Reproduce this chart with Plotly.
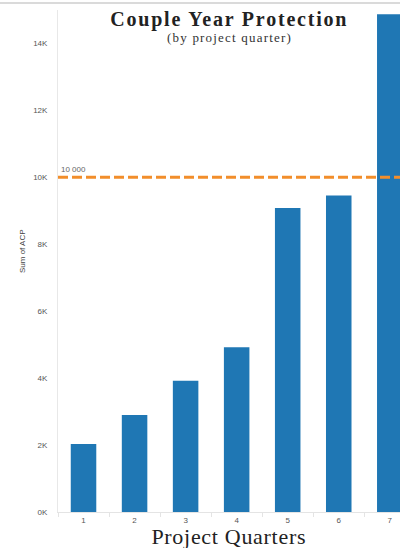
import plotly.graph_objects as go

quarters = ["1", "2", "3", "4", "5", "6", "7"]
cyp_values = [2030, 2900, 3920, 4920, 9080, 9460, 14870]
y_tick_vals = [0, 2000, 4000, 6000, 8000, 10000, 12000, 14000]
y_tick_text = ["0K", "2K", "4K", "6K", "8K", "10K", "12K", "14K"]
target_value = 10000
target_label = "10 000"

W, H = 400, 548
L, R, T, B = 58, 0, 10, 36
pw = W - L - R
ph = H - T - B

def px_x(x):
    return (x - L) / pw

def px_y(y):
    return (H - B - y) / ph

fig = go.Figure()
fig.add_trace(go.Bar(
    x=quarters, y=cyp_values, width=0.5,
    marker=dict(color="#1f77b4", line=dict(width=0)),
    hoverinfo="x+y",
))

fig.update_layout(
    width=W, height=H,
    margin=dict(l=L, r=R, t=T, b=B),
    paper_bgcolor="white", plot_bgcolor="white",
    showlegend=False,
    bargap=0.5,
    xaxis=dict(
        type="category", range=[-0.5, 6.2],
        showgrid=False, zeroline=False,
        showline=True, linecolor="#e4e4e4", linewidth=1,
        ticks="outside", tickson="boundaries", ticklen=4, tickcolor="#e4e4e4",
        tickfont=dict(family="Liberation Sans", size=8, color="#555"),
    ),
    yaxis=dict(
        range=[0, 15000],
        tickvals=y_tick_vals, ticktext=y_tick_text,
        showgrid=False, zeroline=False,
        showline=True, linecolor="#e8e8e8", linewidth=1,
        ticks="", ticklabelstandoff=8,
        tickfont=dict(family="Liberation Sans", size=8, color="#555"),
    ),
    shapes=[
        dict(type="line", xref="paper", yref="y", x0=0, x1=1,
             y0=target_value, y1=target_value,
             line=dict(color="#f28e2b", width=3, dash="10px,4px"), layer="above"),
        dict(type="line", xref="paper", yref="paper", x0=px_x(0), x1=1,
             y0=px_y(3), y1=px_y(3), line=dict(color="#b5b5b5", width=1)),
    ],
    annotations=[
        dict(text="<b>Couple Year Protection</b>", xref="paper", yref="paper",
             x=px_x(229), y=px_y(20), xanchor="center", yanchor="middle",
             showarrow=False, font=dict(family="Liberation Serif", size=20, color="#222")),
        dict(text="(by project quarter)", xref="paper", yref="paper",
             x=px_x(229), y=px_y(38), xanchor="center", yanchor="middle",
             showarrow=False, font=dict(family="Liberation Serif", size=13, color="#333")),
        dict(text="Project Quarters", xref="paper", yref="paper",
             x=px_x(229), y=px_y(536), xanchor="center", yanchor="middle",
             showarrow=False, font=dict(family="Liberation Serif", size=22, color="#222")),
        dict(text="Sum of ACP", xref="paper", yref="paper", textangle=-90,
             x=px_x(22), y=px_y(251), xanchor="center", yanchor="middle",
             showarrow=False, font=dict(family="Liberation Sans", size=8, color="#444")),
        dict(text=target_label, xref="paper", yref="y",
             x=0, y=target_value, xanchor="left", yanchor="bottom",
             xshift=1, yshift=1,
             showarrow=False, font=dict(family="Liberation Sans", size=8, color="#666")),
    ],
)

post_js = """
document.body.style.margin='0';
document.body.style.overflow='hidden';
document.documentElement.style.overflow='hidden';
var spacing = [1.8, 1.2, 0.7];
var ann = document.querySelectorAll('.annotation-text');
for (var i = 0; i < spacing.length && i < ann.length; i++) {
  ann[i].style.letterSpacing = spacing[i] + 'px';
}
"""

fig.write_html(
    "out.html",
    post_script=post_js,
    config={"displayModeBar": False},
)
